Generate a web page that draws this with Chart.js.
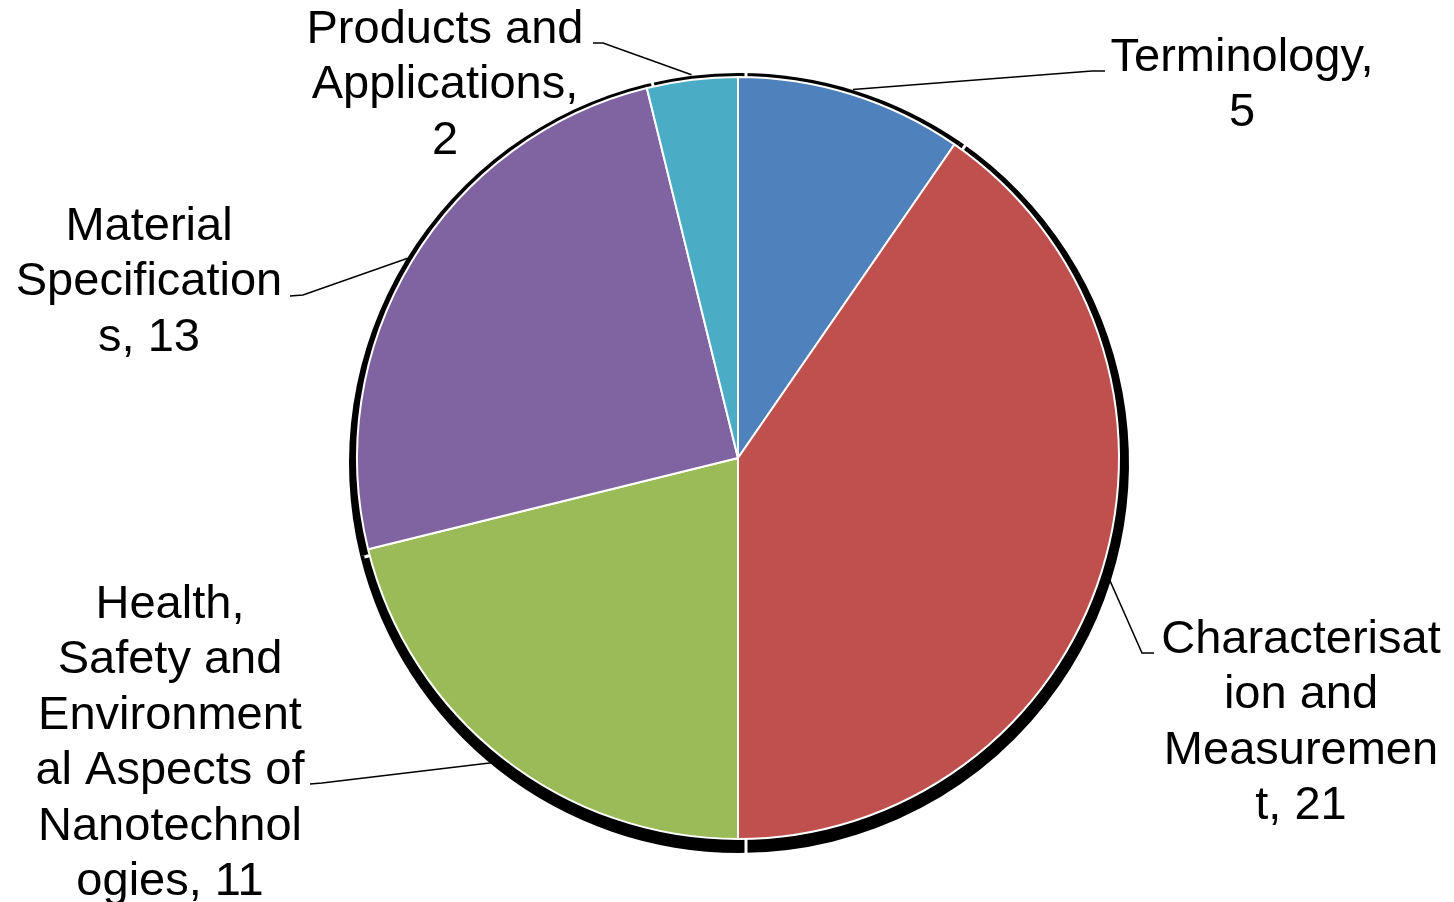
<!DOCTYPE html>
<html>
<head>
<meta charset="utf-8">
<title>Standards by topic</title>
<script src="https://cdn.jsdelivr.net/npm/chart.js"></script>
<style>
  html, body { margin: 0; padding: 0; background: #fff; }
  #wrap { width: 1454px; height: 902px; }
</style>
</head>
<body>
<div id="wrap"><canvas id="chartCanvas" width="1454" height="902"></canvas></div>
<script>
// Categorías y valores del gráfico
const categorias = [
    "Terminology",
    "Characterisation and Measurement",
    "Health, Safety and Environmental Aspects of Nanotechnologies",
    "Material Specifications",
    "Products and Applications"
];
const valores = [5, 21, 11, 13, 2];

// Texto de cada etiqueta partido en líneas; {v} se sustituye por el valor
const lineasEtiqueta = [
    ["Terminology,", "{v}"],
    ["Characterisat", "ion and", "Measuremen", "t, {v}"],
    ["Health,", "Safety and", "Environment", "al Aspects of", "Nanotechnol", "ogies, {v}"],
    ["Material", "Specification", "s, {v}"],
    ["Products and", "Applications,", "{v}"]
];

const colores = ['#4F81BD', '#C0504D', '#9BBB59', '#8064A2', '#4BACC6'];

// Posición de cada bloque de texto y de su línea guía
const cajas = [
    { cx: 1242, base: 71,  codo: [1092, 71],  fin: [1105, 71] },
    { cx: 1301, base: 653, codo: [1142, 653], fin: [1154, 653] },
    { cx: 170,  base: 618, codo: [322, 783],  fin: [310, 784] },
    { cx: 149,  base: 240, codo: [303, 295],  fin: [290, 296] },
    { cx: 445,  base: 43,  codo: [603, 43],   fin: [593, 43] }
];
const altoLinea = 55.4;

// Sombra negra bajo cada porción, separada por cortes blancos
const sombraPlugin = {
    id: 'sombra',
    beforeDatasetsDraw(chart) {
        const ctx = chart.ctx;
        const meta = chart.getDatasetMeta(0);
        ctx.save();
        meta.data.forEach(arc => {
            const p = arc.getProps(['x', 'y', 'startAngle', 'endAngle', 'outerRadius'], true);
            const sx = p.x + 1, sy = p.y + 5;
            const rs = p.outerRadius + 9;
            ctx.beginPath();
            ctx.moveTo(sx, sy);
            ctx.arc(sx, sy, rs, p.startAngle, p.endAngle);
            ctx.closePath();
            ctx.fillStyle = '#000';
            ctx.fill();
        });
        meta.data.forEach(arc => {
            const p = arc.getProps(['x', 'y', 'startAngle', 'outerRadius'], true);
            const sx = p.x + 8, sy = p.y + 5;
            const rs = p.outerRadius + 12;
            ctx.beginPath();
            ctx.moveTo(sx, sy);
            ctx.lineTo(sx + Math.cos(p.startAngle) * rs, sy + Math.sin(p.startAngle) * rs);
            ctx.lineWidth = 3;
            ctx.strokeStyle = '#fff';
            ctx.stroke();
        });
        ctx.restore();
    }
};

// Etiquetas con líneas guía
const etiquetasPlugin = {
    id: 'etiquetas',
    afterDatasetsDraw(chart) {
        const ctx = chart.ctx;
        const meta = chart.getDatasetMeta(0);
        ctx.save();
        meta.data.forEach((arc, i) => {
            const p = arc.getProps(['x', 'y', 'startAngle', 'endAngle', 'outerRadius'], true);
            const medio = (p.startAngle + p.endAngle) / 2;
            const r = p.outerRadius + 5;
            const caja = cajas[i];

            ctx.beginPath();
            ctx.moveTo(p.x + Math.cos(medio) * r, p.y + Math.sin(medio) * r);
            ctx.lineTo(caja.codo[0], caja.codo[1]);
            ctx.lineTo(caja.fin[0], caja.fin[1]);
            ctx.lineWidth = 1.5;
            ctx.strokeStyle = '#000';
            ctx.stroke();

            ctx.fillStyle = '#000';
            ctx.font = '47px "Liberation Sans", Arial, sans-serif';
            ctx.textAlign = 'center';
            ctx.textBaseline = 'alphabetic';
            lineasEtiqueta[i].forEach((linea, j) => {
                const texto = linea.replace('{v}', valores[i]);
                ctx.fillText(texto, caja.cx, caja.base + j * altoLinea);
            });
        });
        ctx.restore();
    }
};

const ctx = document.getElementById('chartCanvas').getContext('2d');
const chart = new Chart(ctx, {
    type: 'pie',
    data: {
        labels: categorias,
        datasets: [{
            data: valores,
            backgroundColor: colores,
            borderColor: '#fff',
            borderWidth: 2
        }]
    },
    options: {
        responsive: false,
        animation: false,
        radius: 381,
        layout: { padding: { left: 357, right: 335, top: 77, bottom: 63 } },
        plugins: {
            legend: { display: false },
            tooltip: { enabled: false }
        }
    },
    plugins: [sombraPlugin, etiquetasPlugin]
});
</script>
</body>
</html>
